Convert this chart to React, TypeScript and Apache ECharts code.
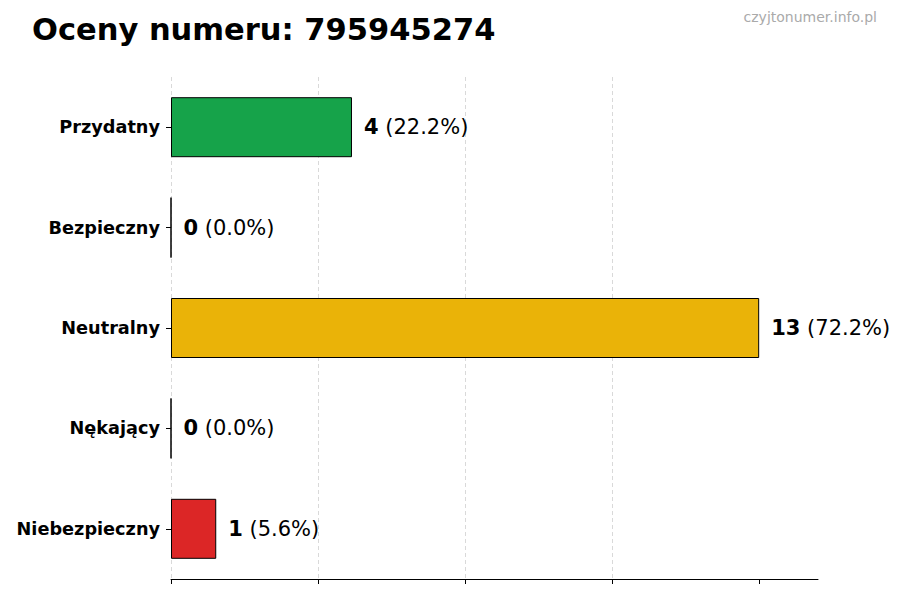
import { useEffect, useRef } from 'react';
import * as echarts from 'echarts';

const categories = ['Przydatny', 'Bezpieczny', 'Neutralny', 'Nękający', 'Niebezpieczny'];
const counts = [4, 0, 13, 0, 1];
const barColors = ['#16a34a', '#2563eb', '#eab308', '#f97316', '#dc2626'];
const tickValues = [0, 3.25, 6.5, 9.75, 13];

const FONT = 'DejaVu Sans';

export default function App() {
  const chartRef = useRef<HTMLDivElement>(null);

  useEffect(() => {
    if (!chartRef.current) return;
    const chart = echarts.init(chartRef.current, null, { renderer: 'svg' });
    const total = counts.reduce((s, v) => s + v, 0);
    const maxVal = Math.max(...counts);

    chart.setOption({
      animation: false,
      backgroundColor: '#fff',
      title: [
        {
          text: 'Oceny numeru: 795945274',
          left: 32,
          top: 14,
          padding: 0,
          textStyle: { fontFamily: FONT, fontSize: 30.5, fontWeight: 'bold', color: '#000' },
        },
        {
          text: 'czyjtonumer.info.pl',
          right: 23,
          top: 10,
          padding: 0,
          textStyle: { fontFamily: FONT, fontSize: 14, fontWeight: 'normal', color: '#aaaaaa' },
        },
      ],
      grid: { left: 171, right: 82, top: 77, bottom: 21, containLabel: false },
      xAxis: {
        type: 'value',
        min: 0,
        max: maxVal * 1.1,
        interval: 3.25,
        axisLine: { show: true, lineStyle: { color: '#000', width: 1 } },
        axisTick: { show: true, length: 5, customValues: tickValues, lineStyle: { color: '#000' } },
        axisLabel: { show: false },
        splitLine: {
          show: true,
          showMaxLine: false,
          lineStyle: { type: [4, 3], color: '#d9d9d9', width: 1 },
        },
      },
      yAxis: {
        type: 'category',
        inverse: true,
        data: categories,
        axisLine: { show: false },
        axisTick: { show: true, length: 5, alignWithLabel: true, lineStyle: { color: '#000' } },
        axisLabel: {
          margin: 11,
          fontFamily: FONT,
          fontSize: 17.7,
          fontWeight: 'bold',
          color: '#000',
        },
        splitLine: { show: false },
      },
      series: [
        {
          type: 'bar',
          barWidth: 60,
          data: counts.map((v, i) => ({
            value: v,
            itemStyle: { color: barColors[i], borderColor: '#000', borderWidth: 1 },
          })),
          label: {
            show: true,
            position: 'right',
            distance: 12,
            formatter: (p: any) =>
              `{v|${p.value}}{p| (${((p.value / total) * 100).toFixed(1)}%)}`,
            rich: {
              v: { fontFamily: FONT, fontSize: 21, fontWeight: 'bold', color: '#000' },
              p: { fontFamily: FONT, fontSize: 21, fontWeight: 'normal', color: '#000' },
            },
          },
        },
      ],
    });

    return () => chart.dispose();
  }, []);

  return (
    <div
      ref={chartRef}
      style={{ position: 'fixed', left: 0, top: 0, width: 900, height: 600 }}
    />
  );
}
